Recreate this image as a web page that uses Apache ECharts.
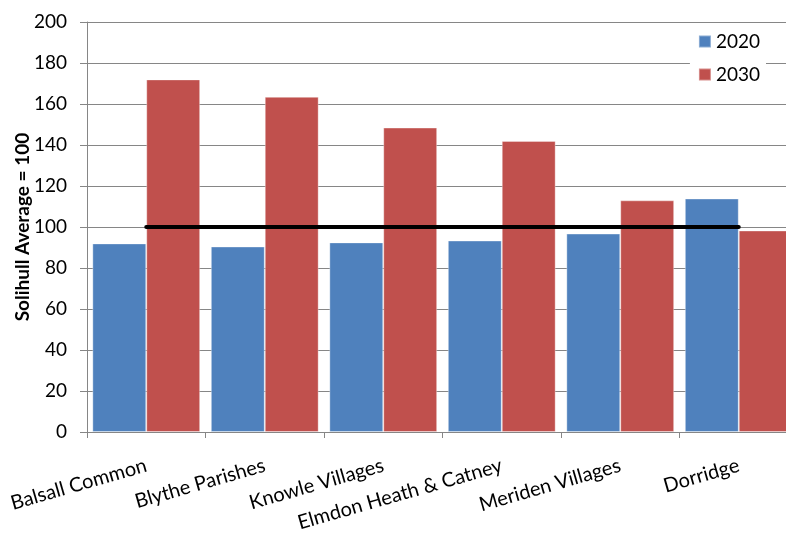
<!DOCTYPE html>
<html>
<head>
<meta charset="utf-8">
<script src="https://cdn.jsdelivr.net/npm/echarts@6/dist/echarts.min.js"></script>
<style>
html,body{margin:0;padding:0;background:#fff;overflow:hidden;}
#c{width:786px;height:536px;}
</style>
</head>
<body>
<div id="c"></div>
<script>
var categories = ["Balsall Common", "Blythe Parishes", "Knowle Villages", "Elmdon Heath & Catney", "Meriden Villages", "Dorridge"];
var values2020 = [92, 90.5, 92.5, 93.4, 96.8, 113.9];
var values2030 = [172, 163.5, 148.5, 142, 113, 98.3];
var averageLine = [100, 100, 100, 100, 100, 100];
var yTicks = { min: 0, max: 200, interval: 20 };

var chart = echarts.init(document.getElementById('c'), null, {renderer: 'canvas'});
var fontFam = 'Lato, "Noto Sans", sans-serif';
chart.setOption({
  animation: false,
  backgroundColor: '#fff',
  textStyle: { fontFamily: fontFam },
  grid: { left: 87, top: 22, width: 711, height: 410, containLabel: false, outerBoundsMode: 'none' },
  legend: {
    orient: 'vertical', right: 20, top: 26, data: ['2020', '2030'],
    itemWidth: 12, itemHeight: 12, itemGap: 14, backgroundColor: '#fff', padding: [6, 6, 6, 8],
    textStyle: { fontSize: 19, color: '#000', fontFamily: fontFam, lineHeight: 18 }, icon: 'rect'
  },
  xAxis: {
    type: 'category', data: categories,
    axisLine: { lineStyle: { color: '#868686', width: 1 } },
    axisTick: { show: true, length: 6, lineStyle: { color: '#868686' } },
    axisLabel: { rotate: 16, interval: 0, margin: 33, fontSize: 20, color: '#000', fontFamily: fontFam }
  },
  yAxis: {
    type: 'value', min: yTicks.min, max: yTicks.max, interval: yTicks.interval,
    name: 'Solihull Average = 100', nameLocation: 'middle', nameGap: 55, nameMoveOverlap: false,
    nameTextStyle: { fontSize: 19, fontWeight: 'bold', color: '#000', fontFamily: fontFam },
    axisLine: { show: true, lineStyle: { color: '#868686' } },
    axisTick: { show: true, length: 7, lineStyle: { color: '#868686' } },
    axisLabel: { margin: 20, fontSize: 19, color: '#000', fontFamily: fontFam },
    splitLine: { show: true, lineStyle: { color: '#868686', width: 1 } }
  },
  series: [
    { name: '2020', type: 'bar', data: values2020, barGap: '0%', barCategoryGap: '9%',
      itemStyle: { color: '#4F81BD', borderColor: 'rgba(255,255,255,0.35)', borderWidth: 1 } },
    { name: '2030', type: 'bar', data: values2030,
      itemStyle: { color: '#C0504D', borderColor: 'rgba(255,255,255,0.35)', borderWidth: 1 } },
    { name: 'Average', type: 'line', data: averageLine, symbol: 'none', z: 10,
      lineStyle: { color: '#000', width: 4, cap: 'round' } }
  ]
});
</script>
</body>
</html>
